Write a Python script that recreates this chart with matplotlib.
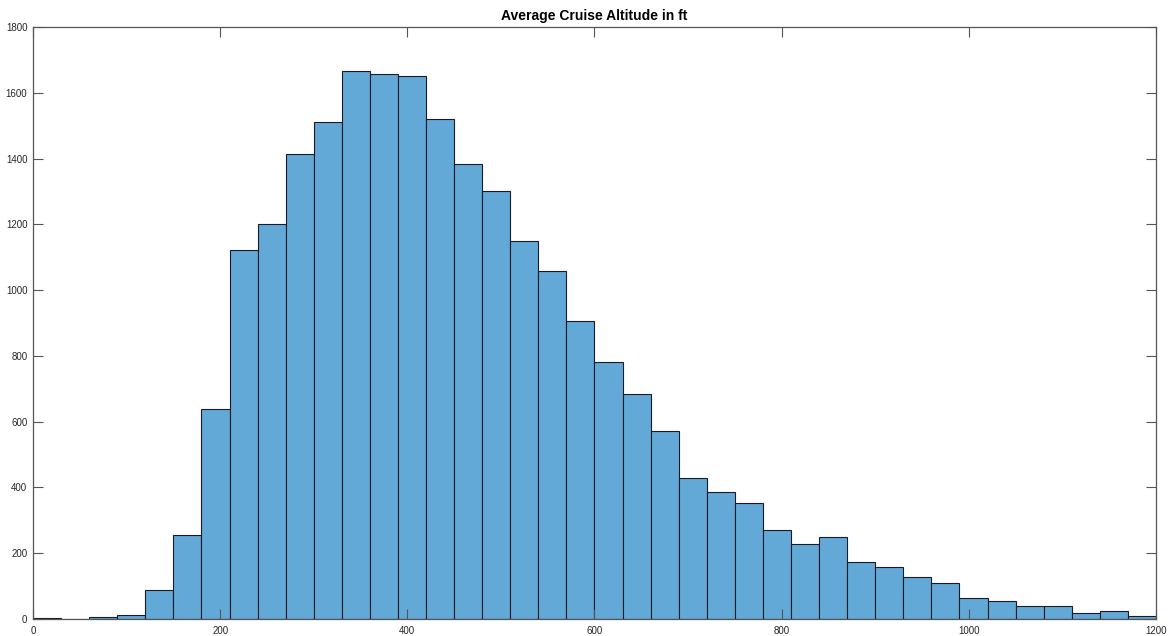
import matplotlib
matplotlib.use("Agg")
import matplotlib.pyplot as plt
import numpy as np

plt.rcParams['font.family'] = ['Liberation Sans', 'DejaVu Sans']

bin_edges = list(range(0, 1230, 30))
counts = [4, 0, 7, 13, 88, 255, 638, 1122, 1200, 1415,
          1512, 1665, 1658, 1652, 1520, 1383, 1302, 1150, 1057, 907,
          783, 684, 572, 430, 387, 352, 272, 227, 248, 174,
          157, 127, 108, 63, 56, 40, 40, 18, 23, 9]
title = "Average Cruise Altitude in ft"
xticks = [0, 200, 400, 600, 800, 1000, 1200]
yticks = [0, 200, 400, 600, 800, 1000, 1200, 1400, 1600, 1800]

fig = plt.figure(figsize=(11.69, 6.36), dpi=100)
ax = fig.add_axes([0.0282, 0.0267, 0.9607, 0.9308])

edges = np.array(bin_edges)
widths = np.diff(edges)
ax.bar(edges[:-1], counts, width=widths, align='edge',
       color='#63a9d7', edgecolor='#1a1a2a', linewidth=0.8)

ax.set_xlim(0, 1200)
ax.set_ylim(0, 1800)
ax.set_xticks(xticks)
ax.set_yticks(yticks)
ax.tick_params(direction='in', length=7.5, width=0.8, color='#555555',
               labelsize=7, labelcolor='#262626', top=True, right=True)
ax.tick_params(axis='x', pad=5)
ax.tick_params(axis='y', pad=4)
for s in ax.spines.values():
    s.set_color('#555555')
    s.set_linewidth(0.9)

ax.set_title(title, fontsize=10, fontweight='bold', pad=5)

fig.savefig('out.png', dpi=100)
